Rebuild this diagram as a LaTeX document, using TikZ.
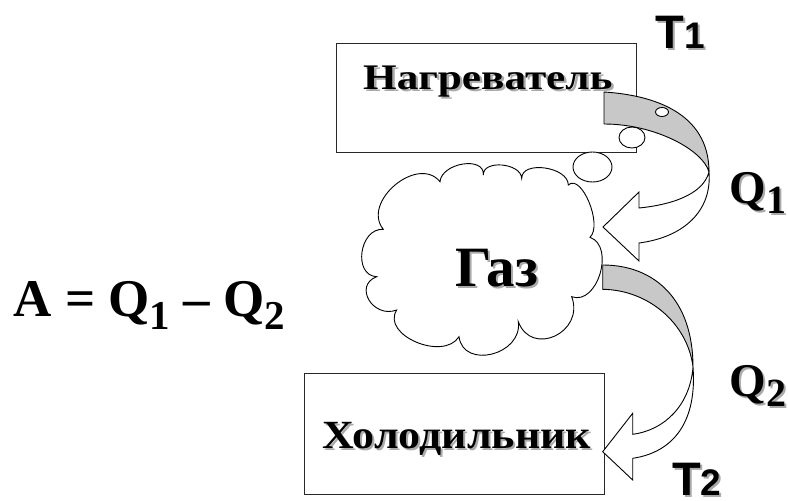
\documentclass[tikz,border=0pt]{standalone}
\usepackage{fontspec}
\setmainfont{Liberation Serif}
\newfontfamily\arialf{Liberation Sans}
\definecolor{shadowgray}{RGB}{170,170,170}
\definecolor{bandgray}{RGB}{200,200,200}
\definecolor{edgegray}{RGB}{40,40,40}
\newcommand\shtext[1]{\makebox[0pt][l]{\hspace{2pt}\raisebox{-2pt}{\textcolor{shadowgray}{#1}}}#1}
\begin{document}
\begin{tikzpicture}[x=1pt,y=-1pt,line width=0.9pt,
  boxst/.style={draw=edgegray,fill=white},
  bandst/.style={draw=black,fill=bandgray,line join=round},
  frontst/.style={draw=black,fill=white,line join=miter},
  bubst/.style={draw=black,fill=white},
  cloudst/.style={draw=black,fill=white},
  lbl/.style={inner sep=0pt,anchor=base west}]
\useasboundingbox (0,0) rectangle (788,501);
% boxes
\path[boxst] (336,43) rectangle (636.5,152);
\path[boxst] (304,373) rectangle (604,494);
% cloud
\coordinate (c1) at (383.3,229.3);
\path[cloudst] (c1)
  .. controls (361.1,202.0) and (417.8,154.4) .. (440,181.7)
  .. controls (441.8,162.6) and (485.1,155.9) .. (483.3,175)
  .. controls (482.6,159.5) and (521.0,162.8) .. (521.7,178.3)
  .. controls (521.7,160.1) and (568.3,166.8) .. (568.3,185)
  .. controls (581.4,172.8) and (603.1,225.1) .. (590,237.3)
  .. controls (615.5,246.6) and (597.2,306.0) .. (571.7,296.7)
  .. controls (585.0,332.4) and (531.6,357.4) .. (518.3,321.7)
  .. controls (522.8,354.8) and (463.5,369.8) .. (459,336.7)
  .. controls (443.2,361.6) and (380.9,334.9) .. (396.7,310)
  .. controls (373.1,318.9) and (353.1,285.6) .. (376.7,276.7)
  .. controls (352.7,275.4) and (359.3,228.0) .. (c1) -- cycle;
% upper arrow
\path[bandst] (604,92) .. controls (652,95) and (709,112) .. (709,172)
  .. controls (703,150) and (655,124) .. (604,124) -- cycle;
\path[frontst] (709,172) .. controls (703,195) and (670,205) .. (639,208)
  -- (639,192) -- (603,227) -- (639,261) -- (639,243)
  .. controls (685,237) and (712,210) .. (709,172) -- cycle;
% lower arrow
\path[bandst] (602.7,265) .. controls (655,265) and (693,300) .. (693,367)
  .. controls (688,325) and (650,290) .. (602.7,289.3) -- cycle;
\path[frontst] (693,367) .. controls (690,405) and (665,430) .. (632.7,434.3)
  -- (632.7,413.3) -- (602.7,451.7) -- (632.7,480) -- (632.7,458.3)
  .. controls (675,452) and (697,420) .. (693,367) -- cycle;
% bubbles
\path[bubst] (592.5,167) ellipse [x radius=19.5,y radius=15];
\path[bubst] (632,137.5) ellipse [x radius=13,y radius=10.5];
\path[bubst] (662,112) ellipse [x radius=6.5,y radius=4.5];
% texts
\node[lbl] (heater) at (362.7,89) {\fontsize{36}{40}\selectfont\bfseries\scalebox{1.2}[1]{\shtext{Нагреватель}}};
\node[lbl] (cooler) at (321.7,448) {\fontsize{40}{46}\selectfont\bfseries\scalebox{1.1}[1]{\shtext{Холодильник}}};
\node[lbl] (gas) at (455,286) {\fontsize{57}{62}\selectfont\bfseries\shtext{Газ}};
\node[lbl] (formula) at (13.3,316.7) {\fontsize{53}{60}\selectfont\bfseries A = Q\raisebox{-13pt}{\fontsize{41}{44}\selectfont 1} – Q\raisebox{-13pt}{\fontsize{41}{44}\selectfont 2}};
\node[lbl] (q1) at (729,203) {\fontsize{47}{52}\selectfont\bfseries\shtext{Q\raisebox{-10pt}{\fontsize{40}{44}\selectfont 1}}};
\node[lbl] (q2) at (729,396) {\fontsize{47}{52}\selectfont\bfseries\shtext{Q\raisebox{-10pt}{\fontsize{40}{44}\selectfont 2}}};
\node[lbl] (t1) at (655,48) {\arialf\bfseries\shtext{\fontsize{47}{52}\selectfont T\fontsize{37}{40}\selectfont 1}};
\node[lbl] (t2) at (671.7,495.5) {\arialf\bfseries\shtext{\fontsize{47}{52}\selectfont T\fontsize{37}{40}\selectfont 2}};
\end{tikzpicture}
\end{document}
